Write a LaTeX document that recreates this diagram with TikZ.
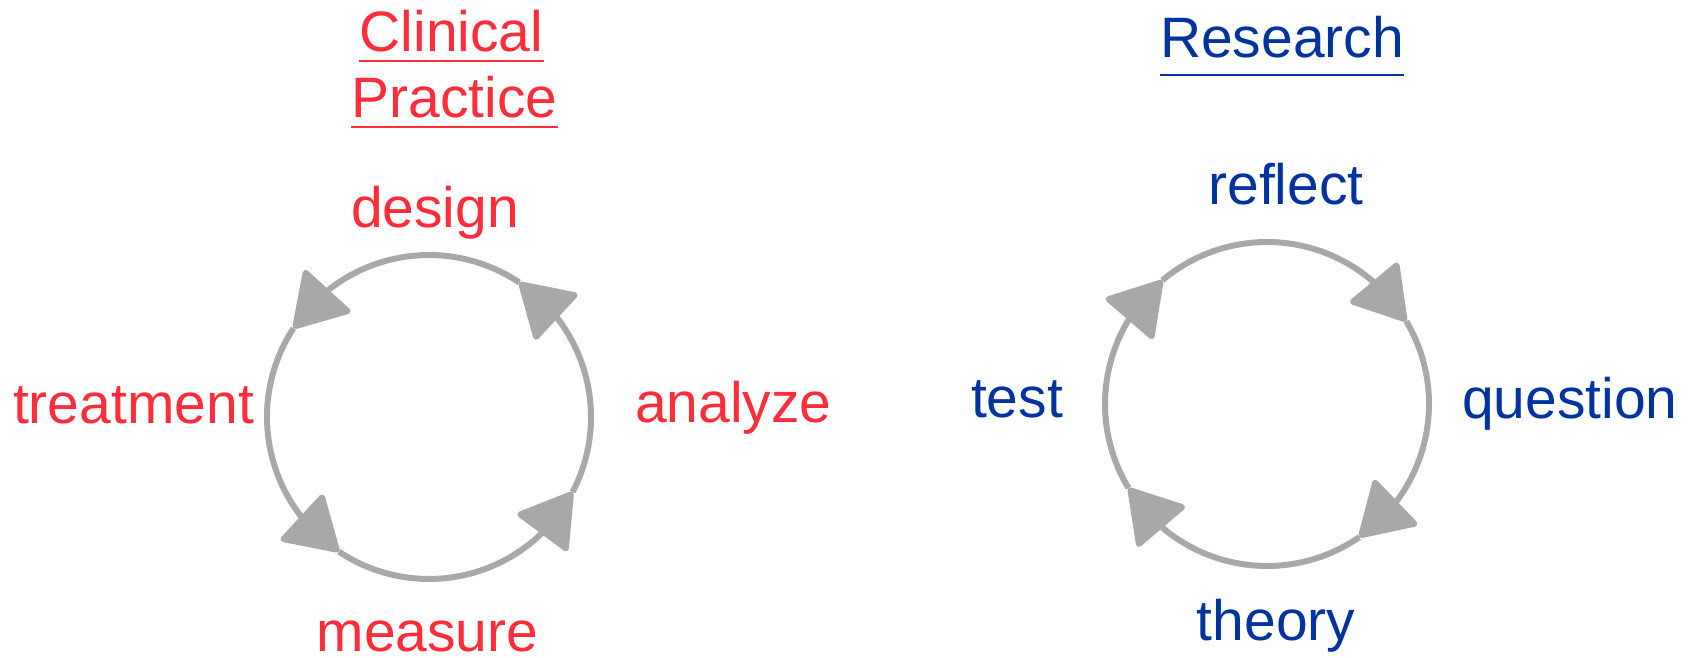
\documentclass[tikz,border=0pt]{standalone}
\usepackage{fontspec}
\setmainfont{Liberation Sans}
\usetikzlibrary{arrows.meta,bending}
\definecolor{cpred}{RGB}{255,45,58}
\definecolor{rsblue}{RGB}{0,51,160}
\definecolor{cycgray}{RGB}{168,168,168}
\tikzset{
  lbl/.style={inner sep=0pt, font=\fontsize{57}{68}\selectfont},
  redlbl/.style={lbl, text=cpred},
  bluelbl/.style={lbl, text=rsblue},
  cycline/.style={draw=cycgray, line width=6pt},
  cyc/.style={cycline, -{Triangle[length=55pt,width=66pt,flex,round]}},
  uline/.style={line width=1.6pt},
}
\begin{document}
\begin{tikzpicture}[x=1pt,y=1pt]
\useasboundingbox (0,0) rectangle (1690,657);
\coordinate (LC) at (429,240);
\coordinate (RC) at (1267,253);
% left cycle (counter-clockwise)
\draw[cyc] ([shift={(56.1:162)}]LC) arc[start angle=56.1, end angle=146.8, radius=162];
\draw[cyc] ([shift={(146.8:162)}]LC) arc[start angle=146.8, end angle=236.2, radius=162];
\draw[cyc] ([shift={(236.2:162)}]LC) arc[start angle=236.2, end angle=332.4, radius=162];
\draw[cyc] ([shift={(332.4:162)}]LC) arc[start angle=332.4, end angle=416.1, radius=162];
% right cycle (clockwise)
\draw[cyc] ([shift={(211.3:162)}]RC) arc[start angle=211.3, end angle=130.3, radius=162];
\draw[cyc] ([shift={(130.3:162)}]RC) arc[start angle=130.3, end angle=30.7, radius=162];
\draw[cyc] ([shift={(30.7:162)}]RC) arc[start angle=30.7, end angle=-55.3, radius=162];
\draw[cyc] ([shift={(-55.3:162)}]RC) arc[start angle=-55.3, end angle=-148.7, radius=162];
% left labels
\node[redlbl, anchor=base] (design) at (435,429) {design};
\node[redlbl, anchor=base west] (analyze) at (635,235) {analyze};
\node[redlbl, anchor=base] (measure) at (427.5,6) {measure};
\node[redlbl, anchor=base] (treatment) at (133.5,234) {treatment};
% right labels
\node[bluelbl, anchor=base] (reflect) at (1286,452) {reflect};
\node[bluelbl, anchor=base west] (question) at (1462,239) {question};
\node[bluelbl, anchor=base] (theory) at (1276,17) {theory};
\node[bluelbl, anchor=base] (test) at (1017,240) {test};
% titles
\node[redlbl, anchor=base] (clin) at (451.5,605) {Clinical};
\node[redlbl, anchor=base] (prac) at (454.5,539) {Practice};
\draw[cpred, uline] ([yshift=-9pt]clin.base west) -- ([yshift=-9pt]clin.base east);
\draw[cpred, uline] ([yshift=-9pt]prac.base west) -- ([yshift=-9pt]prac.base east);
\node[bluelbl, anchor=base] (res) at (1282,599) {Research};
\draw[rsblue, uline] ([yshift=-17pt]res.base west) -- ([yshift=-17pt]res.base east);
\end{tikzpicture}
\end{document}
